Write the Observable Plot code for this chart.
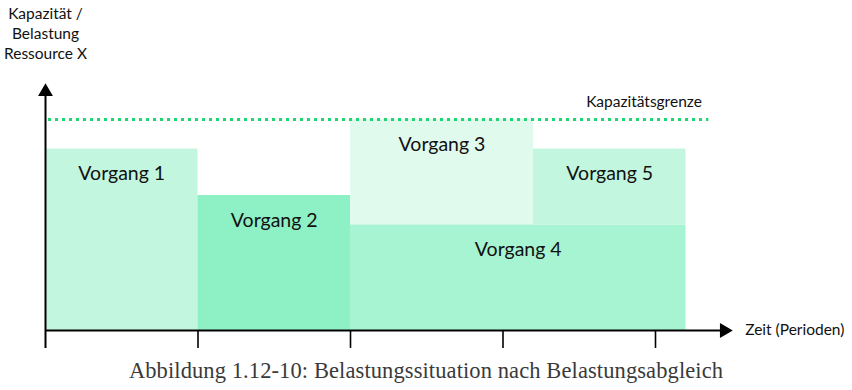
<!DOCTYPE html>
<html>
<head>
<meta charset="utf-8">
<script src="https://cdn.jsdelivr.net/npm/d3@7"></script>
<script src="https://cdn.jsdelivr.net/npm/@observablehq/plot@0.6"></script>
<style>
  html, body { margin: 0; padding: 0; background: #fff; }
  #chart { width: 852px; height: 352px; }
  #caption { width: 852px; text-align: center; font-family: "Liberation Serif", serif; font-size: 22.5px; letter-spacing: 0.1px; line-height: 26px; color: #3a3a3a; margin-top: 6px; }
</style>
</head>
<body>
<div id="chart"></div>
<div id="caption">Abbildung 1.12-10: Belastungssituation nach Belastungsabgleich</div>
<script>
// Data (periods on x, load units on y)
const vorgaenge = ["Vorgang 1", "Vorgang 2", "Vorgang 3", "Vorgang 4", "Vorgang 5"];
const startPeriode = [0, 1, 2, 2, 3.2];
const endePeriode = [1, 2, 3.2, 4.2, 4.2];
const belastungVon = [0, 0, 5, 0, 5];
const belastungBis = [8.6, 6.4, 10, 5, 8.6];
const farben = ["#c2f6df", "#8ef0c5", "#e0faee", "#a6f4d2", "#c2f6df"];
const kapazitaet = 10;
const tickPerioden = [0, 1, 2, 3, 4];
const yAchsenTitel = "Kapazität /\nBelastung\nRessource X";
const xAchsenTitel = "Zeit (Perioden)";
const grenzeTitel = "Kapazitätsgrenze";

const xMax = 4.49;   // arrow tip of x axis
const yMax = 11.6;   // arrow tip of y axis
const linieEnde = 4.33;

const data = vorgaenge.map((name, i) => ({
  name, x1: startPeriode[i], x2: endePeriode[i],
  y1: belastungVon[i], y2: belastungBis[i], fill: farben[i]
}));

const font = "Lato, 'Open Sans', sans-serif";

const chart = Plot.plot({
  width: 852,
  height: 352,
  marginLeft: 0, marginRight: 0, marginTop: 0, marginBottom: 0,
  x: { domain: [0, 5], range: [45, 807.5], axis: null },
  y: { domain: [0, 12], range: [330, 76.8], axis: null },
  style: { fontFamily: font, background: "#fff", overflow: "visible" },
  marks: [
    Plot.rect(data, { x1: "x1", x2: "x2", y1: "y1", y2: "y2", fill: "fill" }),
    Plot.text(data, {
      x: d => (d.x1 + d.x2) / 2, y: "y2", text: "name",
      dy: 25, fontSize: 19.5, fill: "#111", fontFamily: font
    }),
    Plot.ruleY([kapazitaet], {
      x1: 0, x2: linieEnde, dx: 3, stroke: "#1ed671", strokeWidth: 3,
      strokeDasharray: "3 4"
    }),
    Plot.text([grenzeTitel], {
      x: linieEnde, y: kapazitaet, text: d => d, textAnchor: "end",
      dy: -17, dx: -4, fontSize: 15.5, fill: "#111", fontFamily: font
    }),
    // axes
    Plot.ruleY([0], { x1: 0, x2: xMax - 0.05, stroke: "#000", strokeWidth: 2 }),
    Plot.ruleX([0], { y1: -0.85, y2: yMax - 0.3, stroke: "#000", strokeWidth: 2 }),
    Plot.ruleX(tickPerioden.slice(1), { y1: -0.85, y2: 0, stroke: "#000", strokeWidth: 1.6 }),
    Plot.dot([0], { x: 0, y: yMax, dy: 6, symbol: "triangle", r: 5.5, fill: "#000", stroke: null }),
    Plot.dot([0], { x: xMax, y: 0, dx: -6, symbol: "triangle", r: 5.5, rotate: 90, fill: "#000", stroke: null }),
    Plot.text([yAchsenTitel], {
      x: 0, y: yMax, text: d => d, lineAnchor: "bottom", lineHeight: 1.29,
      dy: -27, fontSize: 15.5, fill: "#111", fontFamily: font
    }),
    Plot.text([xAchsenTitel], {
      x: xMax, y: 0, text: d => d, textAnchor: "start",
      dx: 15, fontSize: 15.5, fill: "#111", fontFamily: font
    })
  ]
});
document.getElementById("chart").appendChild(chart);
</script>
</body>
</html>
